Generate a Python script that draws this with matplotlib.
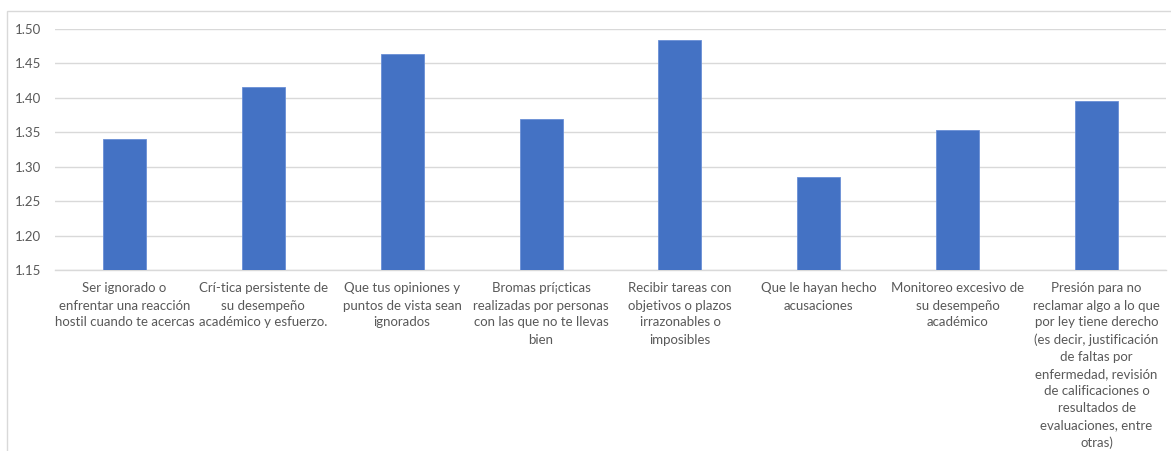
import matplotlib
matplotlib.use("Agg")
import matplotlib.pyplot as plt
from matplotlib.patches import Rectangle

labels = [
    "Ser ignorado o\nenfrentar una reacción\nhostil cuando te acercas",
    "Crí-tica persistente de\nsu desempeño\nacadémico y esfuerzo.",
    "Que tus opiniones y\npuntos de vista sean\nignorados",
    "Bromas prí¡cticas\nrealizadas por personas\ncon las que no te llevas\nbien",
    "Recibir tareas con\nobjetivos o plazos\nirrazonables o\nimposibles",
    "Que le hayan hecho\nacusaciones",
    "Monitoreo excesivo de\nsu desempeño\nacadémico",
    "Presión para no\nreclamar algo a lo que\npor ley tiene derecho\n(es decir, justificación\nde faltas por\nenfermedad, revisión\nde calificaciones o\nresultados de\nevaluaciones, entre\notras)",
]
values = [1.34, 1.416, 1.464, 1.370, 1.484, 1.285, 1.354, 1.396]
yticks = [1.15, 1.20, 1.25, 1.30, 1.35, 1.40, 1.45, 1.50]

plt.rcParams['font.family'] = ['Lato', 'DejaVu Sans']

W, H = 1171, 451
fig = plt.figure(figsize=(W / 100, H / 100), dpi=100)
ax = fig.add_axes([55 / W, 1 - 270 / H, 1111 / W, 241 / H])

# chart border like a spreadsheet chart
fig.patches.append(Rectangle((7 / W, -0.1), 1.2, 1 - 11 / H + 0.1,
                             transform=fig.transFigure, fill=False,
                             edgecolor="#d9d9d9", linewidth=1))

x = range(len(values))
ax.bar(x, values, width=0.31, color="#4472c4", edgecolor="#6a8fd6",
       linewidth=0.6, zorder=3)
ax.set_ylim(1.15, 1.50)
ax.set_xlim(-0.5, len(values) - 0.5)
ax.set_yticks(yticks)
ax.set_yticklabels([f"{v:.2f}" for v in yticks])
ax.set_xticks(list(x))
ax.set_xticklabels(labels, fontsize=9.5, color="#595959", linespacing=1.5,
                   va="top")
ax.tick_params(axis="y", labelsize=9.5, labelcolor="#595959", length=0, pad=10)
ax.tick_params(axis="x", length=0, pad=9)
ax.grid(axis="y", color="#d9d9d9", linewidth=1, zorder=0)
for s in ["top", "right", "left"]:
    ax.spines[s].set_visible(False)
ax.spines["bottom"].set_color("#d9d9d9")
ax.spines["bottom"].set_linewidth(1)

fig.savefig("out.png", dpi=100)
